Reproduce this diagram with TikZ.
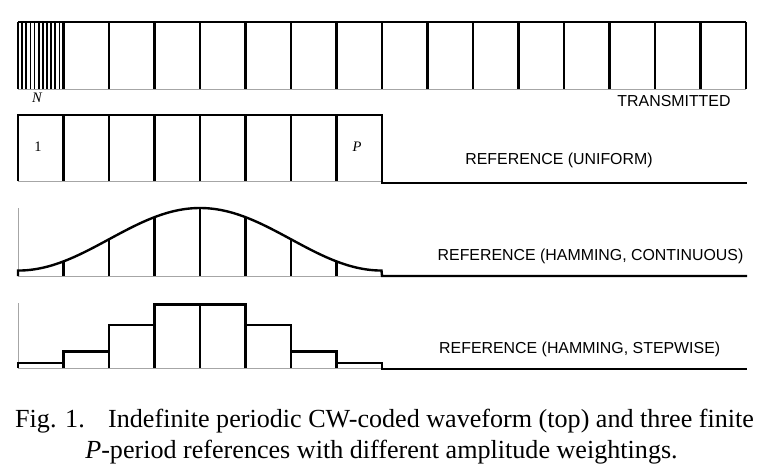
\documentclass[tikz,border=0pt]{standalone}
\usepackage{fontspec}
\setmainfont{Liberation Serif}
\newfontfamily\labfont{Liberation Sans}
\tikzset{
  thickline/.style={black, line width=2.4pt},
  fineline/.style={black, line width=1.7pt},
  greyline/.style={gray!70, line width=1pt},
  lab/.style={inner sep=0pt, anchor=base, font=\labfont\fontsize{15.9}{18}\selectfont},
  idx/.style={inner sep=0pt, anchor=base, font=\fontsize{14.5}{16}\selectfont},
  captext/.style={inner sep=0pt, font=\fontsize{26.1}{30}\selectfont}
}
\begin{document}
\begin{tikzpicture}[x=1pt,y=-1pt]
\useasboundingbox (0,0) rectangle (777,472);
\def\w{45.5}
% ---------- row 1: transmitted ----------
\draw[greyline] (18,89) -- (746,89);
\draw[thickline] (18,22) -- (746,22);
\foreach \k in {0,...,16} \draw[thickline] ({18+\k*\w},22) -- ({18+\k*\w},89);
\foreach \j in {1,...,10} \draw[fineline] ({18+\j*\w/11},22) -- ({18+\j*\w/11},89);
\node[idx] (N) at (37,102) {\itshape N};
\node[lab] (tx) at (674,106.7) {TRANSMITTED};
% ---------- row 2: uniform ----------
\draw[greyline] (18,181) -- (382,181);
\draw[thickline] (18,181) -- (18,115) -- (382,115) -- (382,183) -- (747,183);
\foreach \k in {1,...,7} \draw[thickline] ({18+\k*\w},115) -- ({18+\k*\w},181);
\node[idx] (one) at (38,151) {1};
\node[idx] (P) at (357,151) {\itshape P};
\node[lab] (uni) at (559,164) {REFERENCE (UNIFORM)};
% ---------- row 3: Hamming continuous ----------
\draw[greyline] (18,208) -- (18,276) -- (382,276);
\draw[thickline] (18,276) -- (18,270.6)
  -- plot[domain=0:1, samples=120] ({18+364*\x},{276-68*(0.54-0.46*cos(360*\x))})
  -- (382,276) -- (747,276);
\foreach \k in {1,...,7}
  \draw[thickline] ({18+\k*\w},276) -- ({18+\k*\w},{276-68*(0.54-0.46*cos(45*\k))});
\node[lab] (cont) at (590.5,260) {REFERENCE (HAMMING, CONTINUOUS)};
% ---------- row 4: Hamming stepwise ----------
\draw[greyline] (18,303) -- (18,368) -- (382,368);
\draw[thickline] (18,368) -- (18,362.7) -- (63.5,362.7) -- (63.5,351.3)
  -- (109,351.3) -- (109,324.7) -- (154.5,324.7) -- (154.5,304.3)
  -- (245.5,304.3) -- (245.5,324.7) -- (291,324.7) -- (291,351.3)
  -- (336.5,351.3) -- (336.5,362.7) -- (382,362.7) -- (382,369) -- (747,369);
\foreach \k/\t in {1/351.3,2/324.7,3/304.3,4/304.3,5/304.3,6/324.7,7/351.3}
  \draw[thickline] ({18+\k*\w},368) -- ({18+\k*\w},\t);
\node[lab] (step) at (579.7,353.3) {REFERENCE (HAMMING, STEPWISE)};
% ---------- caption ----------
\node[captext, anchor=base west] (fig) at (15,427.3) {Fig. 1.};
\node[captext, anchor=base west] (c1) at (108,427.3) {Indefinite periodic CW-coded waveform (top) and three finite};
\node[captext, anchor=base] (c2) at (381.5,458.3) {\textit{P}-period references with different amplitude weightings.};
\end{tikzpicture}
\end{document}
